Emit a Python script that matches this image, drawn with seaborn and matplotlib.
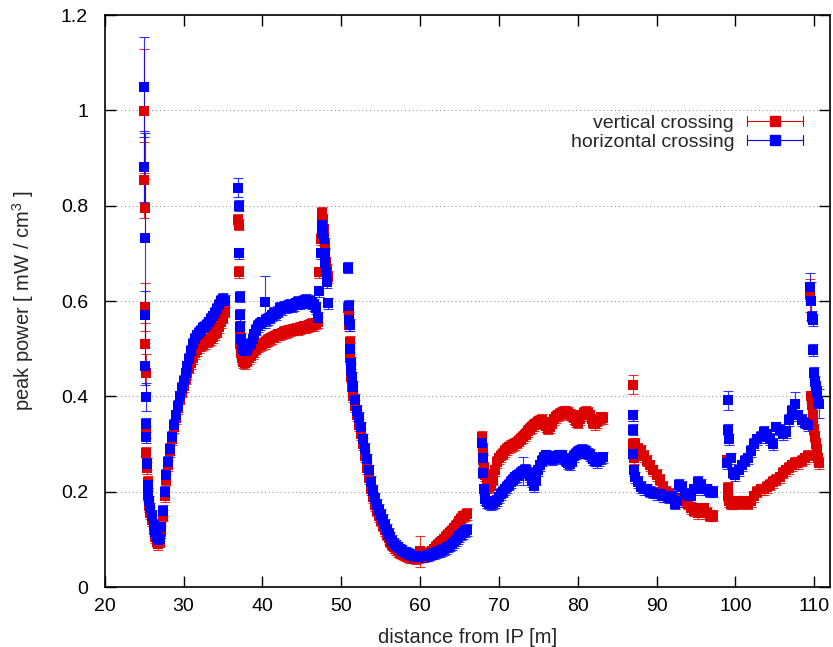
import numpy as np
import pandas as pd
import matplotlib
matplotlib.use("Agg")
import matplotlib.pyplot as plt
from matplotlib.lines import Line2D
from matplotlib.legend_handler import HandlerBase
import seaborn as sns

# ---- data ----
# segment A : 25 .. 35 m
xa = [24.95, 25.0, 25.05, 25.1, 25.15, 25.2, 25.25, 25.3, 25.35, 25.45, 25.55, 25.65, 25.8,
      26.0, 26.2, 26.4, 26.6, 26.8, 27.0, 27.2, 27.4, 27.6, 27.8, 28.0, 28.25, 28.5, 28.75,
      29.0, 29.25, 29.5, 29.75, 30.0, 30.25, 30.5, 30.75, 31.0, 31.25, 31.5, 31.75, 32.0,
      32.25, 32.5, 32.75, 33.0, 33.25, 33.5, 33.75, 34.0, 34.25, 34.5, 34.75, 35.0, 35.2]
va = [0.998, 0.854, 0.796, 0.588, 0.509, 0.448, 0.325, 0.282, 0.25, 0.22, 0.19, 0.17, 0.155,
      0.14, 0.12, 0.105, 0.095, 0.09, 0.095, 0.115, 0.15, 0.19, 0.225, 0.255, 0.285, 0.31, 0.335,
      0.355, 0.375, 0.395, 0.41, 0.422, 0.437, 0.449, 0.46, 0.47, 0.48, 0.49, 0.497, 0.503,
      0.507, 0.51, 0.512, 0.515, 0.517, 0.52, 0.524, 0.53, 0.536, 0.545, 0.555, 0.565, 0.578]
ha = [1.049, 0.882, 0.732, 0.570, 0.464, 0.399, 0.343, 0.314, 0.258, 0.213, 0.195, 0.18, 0.165,
      0.15, 0.13, 0.115, 0.105, 0.098, 0.10, 0.125, 0.16, 0.2, 0.235, 0.262, 0.29, 0.315, 0.34,
      0.36, 0.38, 0.4, 0.418, 0.432, 0.448, 0.463, 0.478, 0.495, 0.51, 0.52, 0.528, 0.533,
      0.538, 0.543, 0.546, 0.55, 0.555, 0.562, 0.568, 0.575, 0.584, 0.592, 0.6, 0.604, 0.6]

# segment B : 37 .. 48 m
xb = [36.95, 37.0, 37.05, 37.1, 37.15, 37.2, 37.3, 37.45, 37.6, 37.8,
      38.0, 38.25, 38.5, 38.75, 39.0, 39.25, 39.5, 39.75, 40.0, 40.3, 40.5, 40.75,
      41.0, 41.25, 41.5, 41.75, 42.0, 42.25, 42.5, 42.75, 43.0, 43.25, 43.5, 43.75,
      44.0, 44.25, 44.5, 44.75, 45.0, 45.25, 45.5, 45.75, 46.0, 46.25, 46.5, 46.75,
      47.0, 47.2, 47.4, 47.5, 47.6, 47.7, 47.8, 47.9, 48.0, 48.1, 48.2, 48.35]
vb = [0.77, 0.76, 0.661, 0.57, 0.53, 0.51, 0.49, 0.48, 0.472, 0.47,
      0.475, 0.48, 0.485, 0.49, 0.495, 0.5, 0.505, 0.508, 0.51, 0.512, 0.515, 0.518,
      0.52, 0.522, 0.525, 0.527, 0.53, 0.53, 0.532, 0.535, 0.535, 0.537, 0.538, 0.54,
      0.54, 0.542, 0.54, 0.543, 0.545, 0.547, 0.545, 0.548, 0.55, 0.552, 0.55, 0.553,
      0.555, 0.66, 0.73, 0.77, 0.785, 0.77, 0.75, 0.72, 0.70, 0.68, 0.665, 0.65]
hb = [0.838, 0.80, 0.70, 0.609, 0.571, 0.545, 0.52, 0.505, 0.50, 0.495,
      0.498, 0.505, 0.51, 0.52, 0.53, 0.54, 0.548, 0.552, 0.555, 0.598, 0.56, 0.562,
      0.565, 0.57, 0.575, 0.573, 0.578, 0.585, 0.583, 0.588, 0.586, 0.59, 0.592, 0.59,
      0.592, 0.595, 0.598, 0.595, 0.597, 0.6, 0.602, 0.598, 0.6, 0.596, 0.592, 0.585,
      0.565, 0.62, 0.70, 0.74, 0.76, 0.75, 0.73, 0.70, 0.68, 0.66, 0.64, 0.595]

# segment C : 51 .. 66 m
xc = [50.9, 51.0, 51.05, 51.1, 51.15, 51.2, 51.3, 51.4, 51.55, 51.75,
      52.0, 52.25, 52.5, 52.75, 53.0, 53.25, 53.5, 53.75, 54.0, 54.25, 54.5, 54.75,
      55.0, 55.25, 55.5, 55.75, 56.0, 56.25, 56.5, 56.75, 57.0, 57.25, 57.5, 57.75,
      58.0, 58.25, 58.5, 58.75, 59.0, 59.25, 59.5, 59.75, 60.0, 60.25, 60.5, 60.75,
      61.0, 61.25, 61.5, 61.75, 62.0, 62.25, 62.5, 62.75, 63.0, 63.25, 63.5, 63.75,
      64.0, 64.25, 64.5, 64.75, 65.0, 65.25, 65.5, 65.75, 66.0]
vc = [0.585, 0.57, 0.55, 0.515, 0.48, 0.46, 0.44, 0.42, 0.40, 0.38,
      0.36, 0.34, 0.32, 0.30, 0.275, 0.25, 0.228, 0.205, 0.188, 0.172, 0.16, 0.149,
      0.139, 0.129, 0.119, 0.11, 0.102, 0.095, 0.089, 0.084, 0.079, 0.075, 0.072, 0.07,
      0.068, 0.066, 0.064, 0.063, 0.062, 0.062, 0.061, 0.062, 0.075, 0.064, 0.065, 0.067,
      0.069, 0.072, 0.075, 0.079, 0.084, 0.088, 0.092, 0.096, 0.10, 0.105, 0.11, 0.114,
      0.118, 0.123, 0.128, 0.133, 0.138, 0.143, 0.148, 0.15, 0.153]
hc = [0.67, 0.59, 0.56, 0.55, 0.50, 0.47, 0.455, 0.44, 0.42, 0.392,
      0.37, 0.355, 0.335, 0.31, 0.29, 0.268, 0.245, 0.22, 0.202, 0.186, 0.173, 0.162,
      0.151, 0.141, 0.13, 0.12, 0.112, 0.104, 0.097, 0.091, 0.087, 0.083, 0.079, 0.076,
      0.073, 0.071, 0.069, 0.067, 0.066, 0.065, 0.065, 0.064, 0.065, 0.065, 0.066, 0.066,
      0.067, 0.068, 0.07, 0.071, 0.073, 0.074, 0.076, 0.078, 0.08, 0.082, 0.085, 0.087,
      0.09, 0.094, 0.099, 0.102, 0.106, 0.11, 0.113, 0.117, 0.12]

# segment D : 68 .. 83 m
xd = [67.9, 67.95, 68.0, 68.1, 68.25, 68.5, 68.75, 69.0, 69.25, 69.5, 69.75,
      70.0, 70.25, 70.5, 70.75, 71.0, 71.25, 71.5, 71.75, 72.0, 72.25, 72.5, 72.75,
      73.0, 73.25, 73.5, 73.75, 74.0, 74.25, 74.5, 74.75, 75.0, 75.25, 75.5, 75.75,
      76.0, 76.25, 76.5, 76.75, 77.0, 77.25, 77.5, 77.75, 78.0, 78.25, 78.5, 78.75,
      79.0, 79.25, 79.5, 79.75, 80.0, 80.25, 80.5, 80.75, 81.0, 81.25, 81.5, 81.75,
      82.0, 82.25, 82.5, 82.75, 83.0, 83.25]
vd = [0.315, 0.29, 0.266, 0.25, 0.235, 0.22, 0.21, 0.212, 0.225, 0.245, 0.262,
      0.27, 0.275, 0.28, 0.285, 0.29, 0.293, 0.296, 0.298, 0.30, 0.303, 0.307, 0.311,
      0.315, 0.318, 0.322, 0.327, 0.332, 0.336, 0.34, 0.343, 0.346, 0.348, 0.35, 0.345,
      0.338, 0.332, 0.335, 0.345, 0.352, 0.357, 0.36, 0.363, 0.365, 0.367, 0.368, 0.366,
      0.362, 0.36, 0.355, 0.348, 0.345, 0.352, 0.36, 0.365, 0.368, 0.365, 0.36, 0.352,
      0.345, 0.342, 0.346, 0.352, 0.356, 0.355]
hd = [0.302, 0.27, 0.24, 0.205, 0.185, 0.178, 0.175, 0.174, 0.176, 0.178, 0.182,
      0.188, 0.195, 0.2, 0.205, 0.21, 0.215, 0.22, 0.225, 0.23, 0.233, 0.236, 0.24,
      0.243, 0.246, 0.245, 0.24, 0.232, 0.222, 0.212, 0.225, 0.245, 0.255, 0.265, 0.272,
      0.276, 0.274, 0.27, 0.268, 0.27, 0.272, 0.275, 0.276, 0.275, 0.27, 0.265, 0.26,
      0.258, 0.265, 0.275, 0.28, 0.283, 0.285, 0.287, 0.285, 0.283, 0.28, 0.277, 0.272,
      0.268, 0.265, 0.262, 0.266, 0.27, 0.272]

# segment E : 87 .. 97 m
xe = [86.95, 87.0, 87.05, 87.1, 87.3, 87.6, 88.0, 88.4, 88.8, 89.2, 89.6, 90.0, 90.4,
      90.8, 91.2, 91.6, 92.0, 92.3, 92.6, 92.9, 93.2, 93.6, 94.0, 94.4, 94.8, 95.2,
      95.6, 96.0, 96.4, 96.8, 97.1]
ve = [0.424, 0.36, 0.30, 0.27, 0.30, 0.29, 0.285, 0.275, 0.265, 0.255, 0.245, 0.235, 0.225,
      0.21, 0.20, 0.195, 0.19, 0.185, 0.185, 0.185, 0.18, 0.18, 0.175, 0.165, 0.16, 0.155,
      0.165, 0.165, 0.155, 0.15, 0.15]
he = [0.36, 0.33, 0.28, 0.245, 0.23, 0.22, 0.21, 0.205, 0.205, 0.20, 0.198, 0.195, 0.195,
      0.19, 0.19, 0.188, 0.19, 0.175, 0.18, 0.215, 0.21, 0.195, 0.19, 0.19, 0.205, 0.22,
      0.215, 0.205, 0.205, 0.20, 0.20]

# segment F : 99 .. 111 m
xf = [98.9, 99.0, 99.1, 99.2, 99.4, 99.7, 100.0, 100.4, 100.8, 101.2, 101.6, 102.0,
      102.4, 102.8, 103.2, 103.6, 104.0, 104.4, 104.8, 105.2, 105.6, 106.0, 106.4, 106.8,
      107.2, 107.6, 108.0, 108.4, 108.8, 109.2, 109.5, 109.6, 109.7, 109.8, 109.9, 110.0,
      110.1, 110.2, 110.35, 110.5, 110.65]
vf = [0.266, 0.208, 0.19, 0.18, 0.175, 0.175, 0.18, 0.175, 0.178, 0.18, 0.175, 0.18,
      0.19, 0.20, 0.205, 0.205, 0.21, 0.215, 0.22, 0.225, 0.23, 0.24, 0.245, 0.25,
      0.255, 0.26, 0.26, 0.265, 0.27, 0.275, 0.612, 0.40, 0.382, 0.36, 0.343, 0.33,
      0.315, 0.30, 0.287, 0.27, 0.26]
hf = [0.26, 0.33, 0.392, 0.31, 0.27, 0.24, 0.235, 0.245, 0.255, 0.265, 0.27, 0.285,
      0.30, 0.31, 0.315, 0.325, 0.32, 0.31, 0.30, 0.335, 0.33, 0.32, 0.325, 0.35,
      0.37, 0.385, 0.36, 0.35, 0.345, 0.34, 0.629, 0.60, 0.567, 0.56, 0.497, 0.449,
      0.43, 0.42, 0.41, 0.389, 0.385]

# typical error and the points with visibly larger error bars
err_default = 0.012
v_err_x = [24.95, 25.0, 25.05, 25.1, 25.15, 25.2, 60.0, 86.95, 109.5]
v_err = [0.13, 0.08, 0.06, 0.05, 0.045, 0.04, 0.033, 0.02, 0.035]
h_err_x = [24.95, 25.0, 25.05, 25.1, 25.15, 25.2, 36.95, 40.3, 73.0, 99.1, 107.6, 109.5, 109.6, 110.65]
h_err = [0.105, 0.075, 0.22, 0.05, 0.04, 0.03, 0.02, 0.055, 0.03, 0.02, 0.025, 0.03, 0.04, 0.03]

xs = xa + xb + xc + xd + xe + xf
vert = va + vb + vc + vd + ve + vf
horiz = ha + hb + hc + hd + he + hf

def errs(xlist, ex, ev):
    big = dict(zip(ex, ev))
    return [big.get(x, err_default) for x in xlist]

df_v = pd.DataFrame({'distance': xs, 'power': vert, 'err': errs(xs, v_err_x, v_err)})
df_v['crossing'] = 'vertical crossing'
df_h = pd.DataFrame({'distance': xs, 'power': horiz, 'err': errs(xs, h_err_x, h_err)})
df_h['crossing'] = 'horizontal crossing'
df = pd.concat([df_v, df_h], ignore_index=True)

colors = {'vertical crossing': '#dd0000', 'horizontal crossing': '#0000ff'}

# ---- plot ----
sns.set_theme(style="ticks")
plt.rcParams['font.family'] = ['Liberation Sans', 'DejaVu Sans']
plt.rcParams['mathtext.fontset'] = 'custom'
plt.rcParams['mathtext.rm'] = 'Liberation Sans'
plt.rcParams['mathtext.it'] = 'Liberation Sans'

fig, ax = plt.subplots(figsize=(8.33, 6.47), dpi=100)
fig.subplots_adjust(left=0.1257, right=0.9964, bottom=0.0927, top=0.9768)

for name in ['vertical crossing', 'horizontal crossing']:
    d = df[df.crossing == name]
    ax.errorbar(d.distance, d.power, yerr=d.err, fmt='none', ecolor=colors[name],
                elinewidth=0.8, capsize=3.3, capthick=0.8, alpha=0.8, zorder=2)
    sns.scatterplot(data=d, x='distance', y='power', color=colors[name], marker='s',
                    s=46, linewidth=0, ax=ax, zorder=3, legend=False)

ax.set_xlim(20, 112)
ax.set_ylim(0, 1.2)
ax.set_xticks(range(20, 111, 10))
ax.set_yticks([0, 0.2, 0.4, 0.6, 0.8, 1.0, 1.2])
ax.set_yticklabels(['0', '0.2', '0.4', '0.6', '0.8', '1', '1.2'])
ax.tick_params(direction='in', length=8, width=1, top=True, right=True,
               labelsize=14, colors='black')
ax.tick_params(axis='y', pad=12)
ax.tick_params(axis='x', pad=8)
ax.yaxis.grid(True, linestyle=(0, (1, 2.5)), color='#999999', lw=0.8)
ax.xaxis.grid(False)
ax.set_axisbelow(True)
for s in ax.spines.values():
    s.set_linewidth(1.2)
    s.set_color('black')

ax.set_xlabel('distance from IP [m]', fontsize=14.5, labelpad=9)
ax.set_ylabel('peak power [ mW / cm$^{3}$ ]', fontsize=14.5, labelpad=18)


class HBarHandler(HandlerBase):
    # legend sample drawn like gnuplot: horizontal bar with caps and a square
    def create_artists(self, legend, orig_handle, xdescent, ydescent,
                       width, height, fontsize, trans):
        c = orig_handle.get_color()
        y = height / 2 - ydescent
        x0 = -xdescent
        x1 = x0 + width
        h = 3.5
        arts = [Line2D([x0, x1], [y, y], color=c, lw=0.8),
                Line2D([x0, x0], [y - h, y + h], color=c, lw=0.8),
                Line2D([x1, x1], [y - h, y + h], color=c, lw=0.8),
                Line2D([(x0 + x1) / 2], [y], marker='s', ms=6.5, color=c, ls='none')]
        for a in arts:
            a.set_transform(trans)
        return arts


handles = [Line2D([], [], color=colors['vertical crossing']),
           Line2D([], [], color=colors['horizontal crossing'])]
ax.legend(handles, ['vertical crossing', 'horizontal crossing'],
          handler_map={Line2D: HBarHandler()}, loc='upper right',
          bbox_to_anchor=(0.963, 0.826), frameon=False, markerfirst=False,
          fontsize=14, handlelength=2.9, handletextpad=0.65, labelspacing=0.05,
          borderpad=0, borderaxespad=0)

fig.savefig('out.png', dpi=100)
